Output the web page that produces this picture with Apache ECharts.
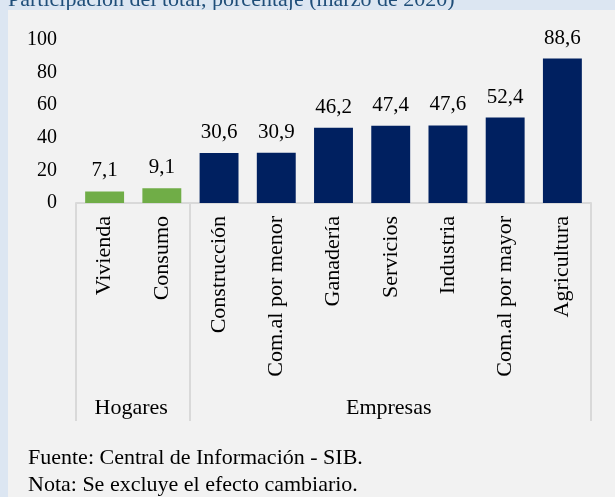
<!DOCTYPE html>
<html>
<head>
<meta charset="utf-8">
<script src="https://cdn.jsdelivr.net/npm/echarts@6/dist/echarts.min.js"></script>
<style>
html,body{margin:0;padding:0;background:#dce6f2;}
#chart{width:615px;height:497px;}
</style>
</head>
<body>
<div id="chart"></div>
<script>
const categories = ['Vivienda','Consumo','Construcción','Com.al por menor','Ganadería','Servicios','Industria','Com.al por mayor','Agricultura'];
const values = [7.1, 9.1, 30.6, 30.9, 46.2, 47.4, 47.6, 52.4, 88.6];
const groupNames = ['Hogares','Empresas'];
const groupSizes = [2, 7];
const groupColors = ['#70ad47', '#002060'];
const yTicks = [0, 20, 40, 60, 80, 100];
const titleText = 'Participación del total, porcentaje (marzo de 2020)';
const footerLines = ['Fuente: Central de Información - SIB.', 'Nota: Se excluye el efecto cambiario.'];

const FONT = "'Liberation Serif', 'DejaVu Serif', serif";

const groupOfIndex = [];
groupSizes.forEach((n, g) => { for (let i = 0; i < n; i++) groupOfIndex.push(g); });

const chart = echarts.init(document.getElementById('chart'), null, {renderer: 'canvas'});

const option = {
  backgroundColor: '#dce6f2',
  animation: false,
  grid: {left: 76, right: 24, top: 40, bottom: 294, containLabel: false},
  xAxis: {
    type: 'category',
    data: categories,
    axisLine: {lineStyle: {color: '#d9d9d9', width: 2}},
    axisTick: {show: false},
    axisLabel: {rotate: 90, margin: 13, color: '#000', fontFamily: FONT, fontSize: 22, interval: 0}
  },
  yAxis: {
    type: 'value',
    min: yTicks[0],
    max: yTicks[yTicks.length - 1],
    interval: yTicks[1] - yTicks[0],
    axisLine: {show: false},
    axisTick: {show: false},
    splitLine: {show: false},
    axisLabel: {margin: 19, color: '#000', fontFamily: FONT, fontSize: 20}
  },
  series: [{
    type: 'bar',
    barCategoryGap: '32%',
    data: values.map((v, i) => ({value: v, itemStyle: {color: groupColors[groupOfIndex[i]]}})),
    label: {
      show: true, position: 'top', distance: 10, color: '#000',
      fontFamily: FONT, fontSize: 21,
      formatter: p => String(p.value.toFixed(1)).replace('.', ',')
    }
  }]
};
chart.setOption(option);

function buildGraphics() {
  const c0 = chart.convertToPixel({xAxisIndex: 0}, categories[0]);
  const c1 = chart.convertToPixel({xAxisIndex: 0}, categories[1]);
  const band = c1 - c0;
  const axisY = chart.convertToPixel({yAxisIndex: 0}, 0);
  const lineBottom = axisY + 218;
  const els = [];
  els.push({type: 'rect', left: 8, top: 10, z: -10, shape: {x: 0, y: 0, width: 615 - 8, height: 497 - 10}, style: {fill: '#f2f2f2'}});
  let start = 0;
  const bounds = [0];
  groupSizes.forEach(n => { start += n; bounds.push(start); });
  bounds.forEach(b => {
    const x = Math.round(c0 - band / 2 + b * band);
    els.push({type: 'line', shape: {x1: x, y1: axisY, x2: x, y2: lineBottom}, style: {stroke: '#d9d9d9', lineWidth: 2}});
  });
  for (let g = 0; g < groupNames.length; g++) {
    const xm = c0 - band / 2 + (bounds[g] + bounds[g + 1]) / 2 * band;
    els.push({type: 'text', x: xm - 2, y: axisY + 205, style: {text: groupNames[g], fill: '#000', font: '22px ' + FONT, textAlign: 'center', textVerticalAlign: 'middle'}});
  }
  els.push({type: 'text', x: 8, y: 0, z: -20, style: {text: titleText, fill: '#1f4e79', font: '22px ' + FONT, textAlign: 'left', textVerticalAlign: 'middle'}});
  footerLines.forEach((t, i) => {
    els.push({type: 'text', x: 28, y: 458 + i * 27, style: {text: t, fill: '#000', font: '22px ' + FONT, textAlign: 'left', textVerticalAlign: 'middle'}});
  });
  chart.setOption({graphic: els});
}
buildGraphics();
</script>
</body>
</html>
